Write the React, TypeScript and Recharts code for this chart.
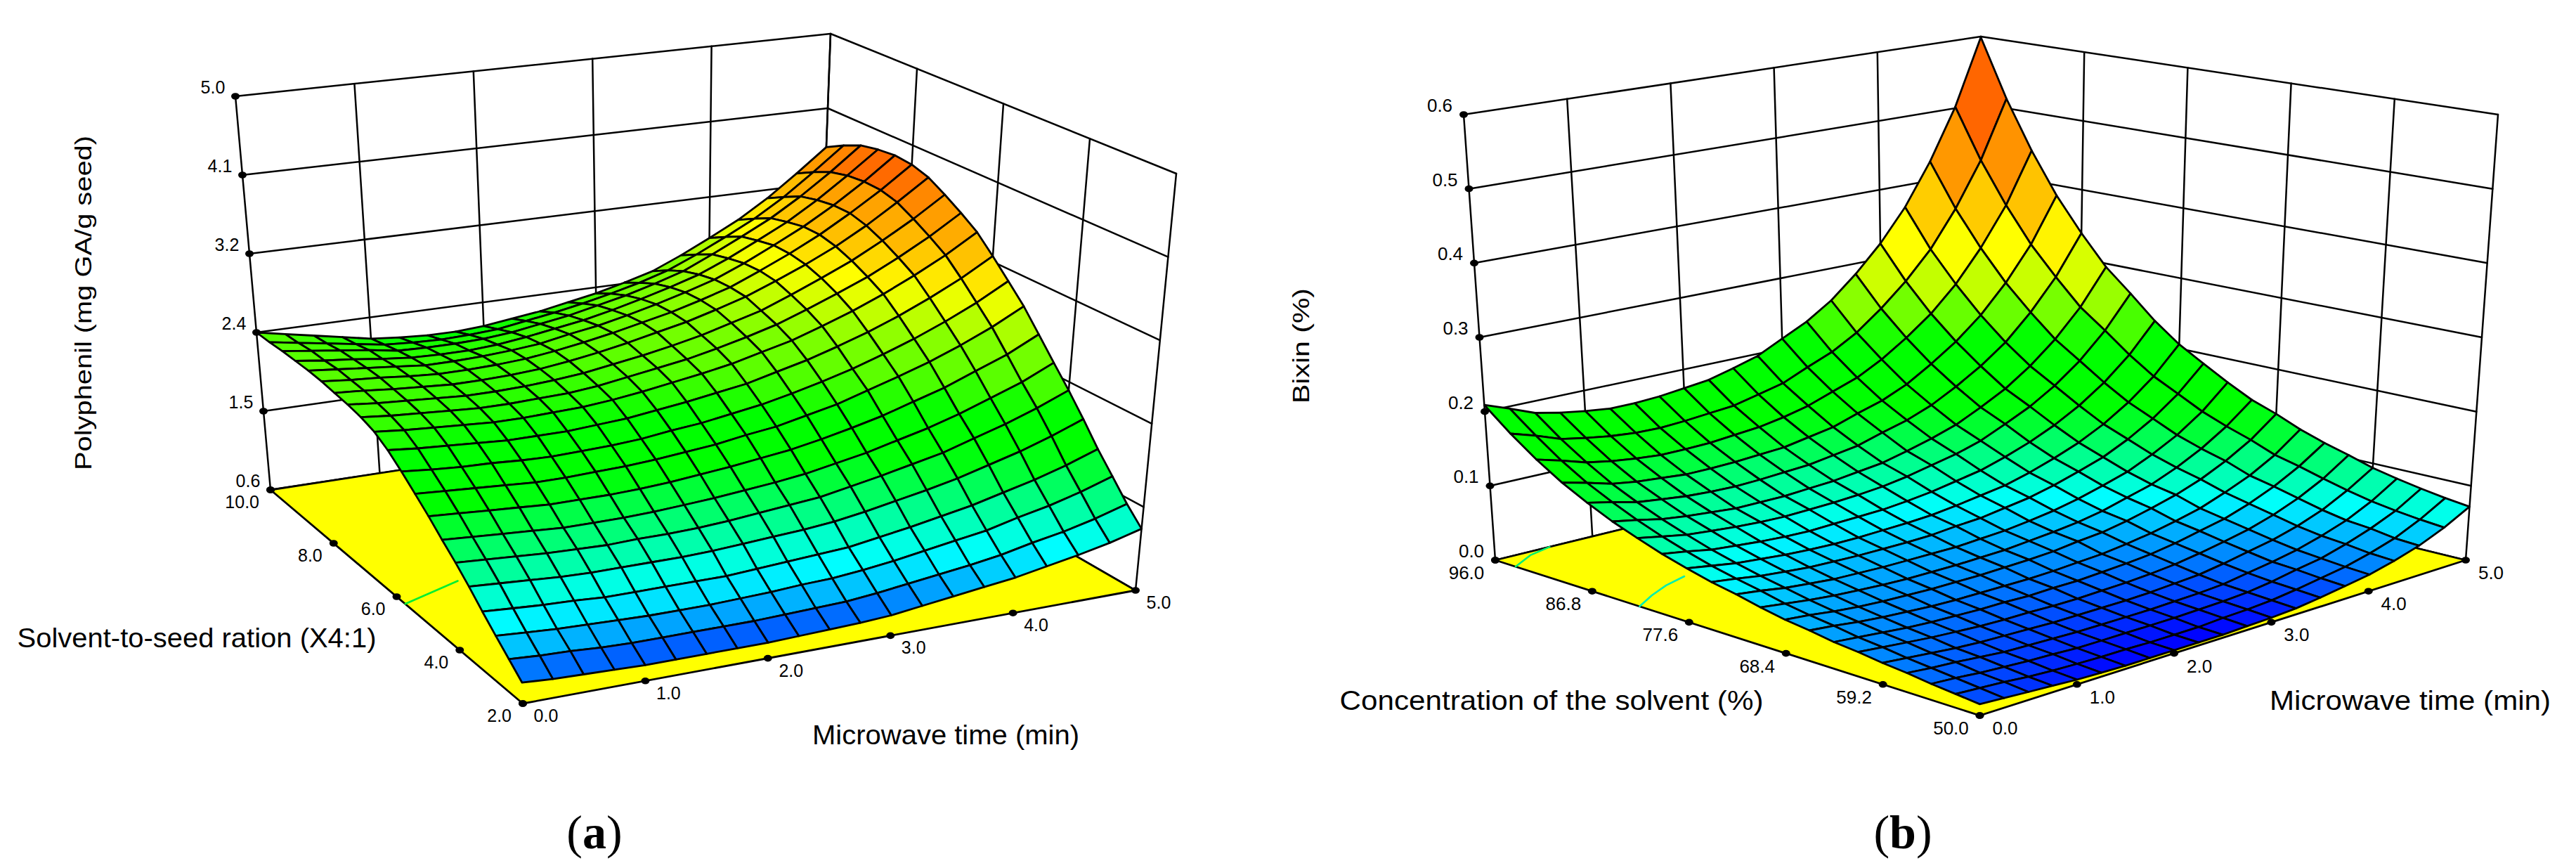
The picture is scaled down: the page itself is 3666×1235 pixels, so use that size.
import React from "react";
import { ScatterChart, Scatter, XAxis, YAxis } from "recharts";

// ---------- chart (a) values ----------
const timeTicksA = [0, 1, 2, 3, 4, 5];
const ratioTicksA = [2, 4, 6, 8, 10];
const polyTicksA = [0.6, 1.48, 2.36, 3.24, 4.12, 5.0];
// rows run from ratio 10 (first) to ratio 2 (last); columns from time 0 to time 5
const polyphenolRows = [
  [2.36,2.30,2.24,2.18,2.12,2.09,2.07,2.07,2.09,2.13,2.17,2.23,2.29,2.37,2.46,2.60,2.76,2.93,3.14,3.39,3.66],
  [2.36,2.31,2.26,2.21,2.16,2.14,2.13,2.14,2.16,2.21,2.26,2.32,2.39,2.47,2.57,2.71,2.87,3.04,3.25,3.50,3.77],
  [2.37,2.33,2.29,2.25,2.20,2.19,2.19,2.20,2.23,2.28,2.33,2.40,2.47,2.56,2.66,2.81,2.97,3.14,3.35,3.59,3.86],
  [2.37,2.33,2.30,2.26,2.23,2.22,2.22,2.24,2.28,2.33,2.38,2.45,2.53,2.62,2.72,2.86,3.02,3.19,3.40,3.64,3.90],
  [2.37,2.34,2.31,2.28,2.25,2.25,2.26,2.28,2.31,2.37,2.42,2.49,2.57,2.66,2.76,2.90,3.06,3.23,3.43,3.66,3.92],
  [2.36,2.33,2.31,2.28,2.26,2.26,2.27,2.29,2.33,2.38,2.44,2.51,2.58,2.67,2.77,2.91,3.06,3.23,3.43,3.65,3.90],
  [2.34,2.32,2.29,2.27,2.25,2.25,2.26,2.28,2.32,2.37,2.43,2.50,2.57,2.66,2.76,2.89,3.03,3.19,3.38,3.60,3.84],
  [2.32,2.29,2.27,2.25,2.23,2.23,2.24,2.26,2.29,2.34,2.39,2.45,2.52,2.61,2.70,2.83,2.97,3.12,3.30,3.50,3.73],
  [2.29,2.26,2.24,2.22,2.20,2.20,2.21,2.22,2.25,2.30,2.35,2.40,2.47,2.55,2.64,2.76,2.89,3.03,3.20,3.39,3.61],
  [2.24,2.21,2.19,2.17,2.15,2.15,2.16,2.17,2.20,2.24,2.29,2.34,2.40,2.48,2.56,2.67,2.79,2.93,3.09,3.27,3.48],
  [2.15,2.12,2.10,2.08,2.06,2.06,2.06,2.08,2.10,2.14,2.18,2.23,2.28,2.36,2.44,2.54,2.65,2.78,2.93,3.10,3.30],
  [2.03,2.00,1.98,1.97,1.95,1.94,1.95,1.96,1.98,2.02,2.05,2.10,2.15,2.22,2.30,2.39,2.50,2.62,2.76,2.92,3.11],
  [1.90,1.88,1.86,1.84,1.82,1.82,1.83,1.84,1.86,1.89,1.92,1.97,2.01,2.08,2.15,2.25,2.35,2.46,2.59,2.74,2.92],
  [1.77,1.75,1.73,1.71,1.69,1.69,1.69,1.70,1.72,1.75,1.78,1.82,1.86,1.92,1.99,2.07,2.17,2.27,2.40,2.53,2.70],
  [1.63,1.61,1.59,1.57,1.55,1.55,1.55,1.56,1.58,1.60,1.63,1.66,1.70,1.76,1.82,1.90,1.98,2.08,2.20,2.32,2.48],
  [1.50,1.48,1.46,1.44,1.43,1.42,1.43,1.43,1.44,1.46,1.49,1.52,1.55,1.61,1.67,1.74,1.81,1.91,2.01,2.13,2.27],
  [1.36,1.34,1.32,1.30,1.29,1.29,1.29,1.29,1.30,1.32,1.34,1.36,1.39,1.44,1.50,1.56,1.63,1.72,1.81,1.92,2.05],
  [1.21,1.19,1.17,1.16,1.14,1.14,1.14,1.14,1.14,1.16,1.18,1.20,1.22,1.27,1.32,1.38,1.44,1.52,1.60,1.70,1.82],
  [1.07,1.05,1.03,1.02,1.01,1.00,1.00,1.00,1.01,1.02,1.04,1.05,1.08,1.12,1.17,1.22,1.27,1.35,1.42,1.51,1.62],
  [0.94,0.92,0.91,0.89,0.88,0.88,0.88,0.88,0.88,0.89,0.90,0.91,0.94,0.98,1.02,1.06,1.11,1.18,1.24,1.32,1.42],
  [0.81,0.79,0.78,0.77,0.76,0.76,0.76,0.76,0.76,0.77,0.78,0.79,0.81,0.85,0.89,0.93,0.97,1.03,1.09,1.16,1.25],
];
const contourA1 = [{ t: 0, s: 5.73 }, { t: 0.575, s: 6.17 }];

// ---------- chart (b) values ----------
const timeTicksB = [0, 1, 2, 3, 4, 5];
const concTicksB = [50, 59.2, 68.4, 77.6, 86.8, 96];
const bixinTicksB = [0, 0.1, 0.2, 0.3, 0.4, 0.5, 0.6];
// rows run from concentration 96 (first) to 50 (last); columns from time 0 to time 5
const bixinRows = [
  [.209,.197,.184,.177,.172,.168,.168,.170,.174,.178,.187,.197,.214,.231,.254,.285,.322,.368,.428,.502,.599],
  [.180,.170,.158,.152,.147,.144,.143,.145,.148,.151,.159,.167,.182,.196,.216,.243,.275,.314,.366,.430,.514],
  [.155,.146,.136,.130,.126,.123,.123,.124,.127,.130,.136,.144,.156,.168,.186,.209,.236,.271,.316,.371,.444],
  [.134,.126,.117,.112,.109,.106,.106,.107,.109,.111,.117,.123,.134,.144,.159,.180,.204,.234,.273,.321,.385],
  [.117,.110,.102,.098,.094,.092,.091,.092,.094,.096,.101,.106,.116,.125,.138,.156,.177,.203,.238,.281,.337],
  [.102,.096,.089,.085,.082,.079,.079,.079,.081,.083,.087,.091,.099,.108,.119,.135,.153,.177,.207,.245,.295],
  [.090,.084,.078,.075,.072,.070,.069,.070,.071,.073,.076,.081,.088,.095,.105,.120,.136,.157,.184,.219,.264],
  [.079,.074,.068,.065,.062,.060,.059,.060,.061,.062,.065,.069,.075,.081,.091,.103,.118,.137,.161,.192,.232],
  [.070,.065,.060,.057,.054,.052,.051,.051,.052,.053,.055,.059,.064,.069,.078,.089,.102,.119,.141,.169,.206],
  [.062,.058,.053,.050,.047,.046,.045,.045,.045,.046,.049,.051,.056,.061,.069,.079,.090,.106,.126,.152,.186],
  [.056,.052,.047,.044,.041,.040,.039,.039,.039,.039,.041,.043,.047,.052,.059,.068,.078,.093,.111,.135,.167],
  [.049,.045,.041,.038,.036,.034,.033,.033,.033,.034,.035,.038,.041,.045,.051,.060,.069,.083,.100,.122,.150],
  [.043,.040,.036,.033,.031,.030,.029,.029,.029,.030,.031,.033,.037,.040,.046,.054,.063,.075,.091,.111,.138],
  [.039,.036,.032,.029,.027,.025,.024,.024,.024,.024,.025,.027,.029,.033,.038,.045,.053,.065,.079,.098,.124],
  [.034,.031,.028,.025,.023,.022,.021,.021,.020,.021,.021,.023,.025,.028,.033,.040,.047,.058,.072,.090,.113],
  [.031,.028,.025,.022,.020,.018,.017,.017,.016,.016,.017,.018,.020,.023,.028,.034,.041,.051,.064,.081,.104],
  [.027,.024,.021,.018,.016,.015,.014,.013,.013,.013,.013,.014,.016,.018,.023,.029,.035,.044,.056,.073,.094],
  [.024,.021,.019,.016,.013,.012,.011,.010,.010,.010,.010,.011,.012,.014,.019,.024,.030,.039,.050,.066,.087],
  [.020,.018,.015,.013,.011,.010,.008,.008,.008,.008,.008,.009,.010,.012,.016,.022,.027,.036,.047,.061,.081],
  [.017,.015,.013,.010,.008,.007,.006,.006,.005,.005,.005,.007,.008,.010,.014,.019,.024,.032,.042,.057,.076],
  [.014,.012,.010,.008,.006,.005,.004,.004,.004,.004,.004,.005,.006,.008,.012,.017,.022,.030,.040,.054,.072],
];
const contourB1 = [{ t: 0, s: 94.07 }, { t: 0.295, s: 95.39 }, { t: 0.56, s: 96 }];
const contourB2 = [{ t: 0, s: 82.3 }, { t: 0.265, s: 83.57 }, { t: 0.52, s: 84.58 }, { t: 0.785, s: 85.29 }];

// ---------- colour ramps: [value, r, g, b] ----------
const rampA = [
  [0.7,0,40,255],[0.85,0,110,255],[1.0,0,200,255],[1.14,0,255,255],[1.3,0,255,200],[1.45,0,255,135],
  [1.6,0,255,80],[1.8,0,255,0],[2.1,0,255,0],[2.36,90,255,0],[2.59,128,255,0],[2.81,200,255,0],
  [3.0,255,255,0],[3.2,255,208,0],[3.4,255,176,0],[3.6,255,153,0],[3.8,255,102,0],
];
const rampB = [
  [0.004,0,0,255],[0.012,0,64,255],[0.025,0,128,255],[0.035,0,160,255],[0.045,0,192,255],[0.06,0,255,255],
  [0.075,0,255,192],[0.095,0,255,128],[0.125,0,255,30],[0.14,0,255,0],[0.205,0,255,0],[0.236,102,255,0],
  [0.27,190,255,0],[0.32,255,255,0],[0.37,255,204,0],[0.43,255,153,0],[0.51,255,102,0],
];

// ---------- box geometry (page pixels) ----------
const boxA = {
  t: [0, 5], s: [2, 10], z: [0.6, 5],
  floor: { F: [744, 1001], R: [1616, 840], L: [385, 697], B: [1162, 578] },
  top: { F: [722, 377], R: [1674, 247], L: [335, 137], B: [1182, 48] },
};
const boxB = {
  t: [0, 5], s: [50, 96], z: [0, 0.6],
  floor: { F: [2817.5, 1018], R: [3509, 797], L: [2128, 797], B: [2819, 628] },
  top: { F: [2818.5, 326], R: [3555, 163], L: [2083, 163], B: [2819, 52] },
};
const W = 3666;
const H = 1235;

type Pt = number[];
const mix = (a: number, b: number, k: number) => a + (b - a) * k;
function bilin(c: any, u: number, v: number): Pt {
  return [0, 1].map((d) => mix(mix(c.F[d], c.R[d], u), mix(c.L[d], c.B[d], u), v));
}
function project(box: any, u: number, v: number, w: number): Pt {
  const a = bilin(box.floor, u, v);
  const b = bilin(box.top, u, v);
  return [mix(a[0], b[0], w), mix(a[1], b[1], w)];
}
const norm = (r: number[], x: number) => (x - r[0]) / (r[1] - r[0]);
function rampColor(ramp: number[][], z: number) {
  if (z <= ramp[0][0]) return `rgb(${ramp[0][1]},${ramp[0][2]},${ramp[0][3]})`;
  for (let i = 1; i < ramp.length; i++) {
    if (z <= ramp[i][0]) {
      const k = (z - ramp[i - 1][0]) / (ramp[i][0] - ramp[i - 1][0]);
      const c = [1, 2, 3].map((d) => Math.round(mix(ramp[i - 1][d], ramp[i][d], k)));
      return `rgb(${c[0]},${c[1]},${c[2]})`;
    }
  }
  const l = ramp[ramp.length - 1];
  return `rgb(${l[1]},${l[2]},${l[3]})`;
}
const item = (pts: Pt[], extra: any) => ({ x: pts[0][0], y: pts[0][1], pts, ...extra });

function surfaceCells(box: any, rows: number[][], ramp: number[][]) {
  const n = rows.length - 1;
  const m = rows[0].length - 1;
  const node = (i: number, j: number) => project(box, j / m, 1 - i / n, norm(box.z, rows[i][j]));
  const out: any[] = [];
  for (let i = 0; i < n; i++) {
    for (let j = m - 1; j >= 0; j--) {
      const z = (rows[i][j] + rows[i][j + 1] + rows[i + 1][j] + rows[i + 1][j + 1]) / 4;
      out.push(item([node(i, j), node(i, j + 1), node(i + 1, j + 1), node(i + 1, j)], {
        fill: rampColor(ramp, z), stroke: "#000", sw: 2.8, closed: true,
      }));
    }
  }
  return out;
}
function wallLines(box: any, tTicks: number[], sTicks: number[], zTicks: number[]) {
  const out: any[] = [];
  const style = { fill: "none", stroke: "#000", sw: 2.5 };
  zTicks.forEach((z) => {
    const w = norm(box.z, z);
    out.push(item([project(box, 0, 1, w), project(box, 1, 1, w), project(box, 1, 0, w)], style));
  });
  tTicks.forEach((t) => out.push(item([project(box, norm(box.t, t), 1, 0), project(box, norm(box.t, t), 1, 1)], style)));
  sTicks.forEach((s) => out.push(item([project(box, 1, norm(box.s, s), 0), project(box, 1, norm(box.s, s), 1)], style)));
  return out;
}
function floorShapes(box: any) {
  const c = [project(box, 0, 1, 0), project(box, 0, 0, 0), project(box, 1, 0, 0), project(box, 1, 1, 0)];
  return [item(c, { fill: "#ffff00", stroke: "#000", sw: 2.8, closed: true })];
}
const contourLine = (box: any, pts: any[], stroke: string) =>
  item(pts.map((p) => project(box, norm(box.t, p.t), norm(box.s, p.s), 0)), { fill: "none", stroke, sw: 2.6 });

function tickDots(box: any, tTicks: number[], sTicks: number[], zTicks: number[]) {
  const a = zTicks.map((z) => project(box, 0, 1, norm(box.z, z)));
  const b = sTicks.map((s) => project(box, 0, norm(box.s, s), 0));
  const c = tTicks.map((t) => project(box, norm(box.t, t), 0, 0));
  return [...a, ...b, ...c].map((p) => ({ x: p[0], y: p[1] }));
}
function tickTexts(box: any, tTicks: number[], sTicks: number[], zTicks: number[], off: any) {
  const out: any[] = [];
  zTicks.forEach((z) => {
    const p = project(box, 0, 1, norm(box.z, z));
    out.push({ x: p[0] + off.z[0], y: p[1] + off.z[1], text: z.toFixed(1), size: off.size });
  });
  sTicks.forEach((s) => {
    const p = project(box, 0, norm(box.s, s), 0);
    out.push({ x: p[0] + off.s[0], y: p[1] + off.s[1], text: s.toFixed(1), size: off.size, anchor: off.sAnchor });
  });
  tTicks.forEach((t) => {
    const p = project(box, norm(box.t, t), 0, 0);
    out.push({ x: p[0] + off.t[0], y: p[1] + off.t[1], text: t.toFixed(1), size: off.size });
  });
  return out;
}

const SANS = "'Liberation Sans', Arial, sans-serif";
const titles = [
  { x: 118, y: 431, text: "Polyphenil (mg GA/g seed)", size: 33, rotate: -90, len: 476 },
  { x: 280, y: 907, text: "Solvent-to-seed ration (X4:1)", size: 39, len: 511 },
  { x: 1346, y: 1045, text: "Microwave time (min)", size: 39, len: 380 },
  { x: 1851, y: 492, text: "Bixin (%)", size: 33, rotate: -90, len: 164 },
  { x: 2208, y: 996, text: "Concentration of the solvent (%)", size: 39, len: 603 },
  { x: 3430, y: 996, text: "Microwave time (min)", size: 39, len: 400 },
];
const captions = [
  { x: 846, y: 1184, letter: "a" },
  { x: 2708, y: 1184, letter: "b" },
];

function PathShape(props: any) {
  const { cx, cy, payload } = props;
  const d = payload.pts
    .map((p: Pt, i: number) => `${i ? "L" : "M"}${(cx + p[0] - payload.x).toFixed(1)} ${(cy + p[1] - payload.y).toFixed(1)}`)
    .join(" ");
  return (
    <path d={d + (payload.closed ? " Z" : "")} fill={payload.fill} stroke={payload.stroke}
      strokeWidth={payload.sw} strokeLinejoin="round" strokeLinecap="round" />
  );
}
function DotShape(props: any) {
  return <ellipse cx={props.cx} cy={props.cy} rx={6} ry={4.8} fill="#000" />;
}
function TextShape(props: any) {
  const { cx, cy, payload: p } = props;
  return (
    <text x={cx} y={cy} textAnchor={p.anchor || "middle"} dominantBaseline="central" fontFamily={SANS}
      fontSize={p.size} fill="#000"
      textLength={p.len} lengthAdjust={p.len ? "spacingAndGlyphs" : undefined}
      transform={p.rotate ? `rotate(${p.rotate} ${cx} ${cy})` : undefined}>
      {p.text}
    </text>
  );
}
function CaptionShape(props: any) {
  const { cx, cy, payload: p } = props;
  return (
    <text x={cx} y={cy} textAnchor="middle" dominantBaseline="central" fontFamily="'Liberation Serif', serif"
      fontSize={68} fill="#000">
      (<tspan fontWeight="bold">{p.letter}</tspan>)
    </text>
  );
}

const offA = { z: [-32, -13], s: [-16, 17], t: [33, 17], size: 25, sAnchor: "end" };
const offB = { z: [-34, -13], s: [-41, 18], t: [36, 18], size: 26, sAnchor: "middle" };

const backA = wallLines(boxA, timeTicksA, ratioTicksA, polyTicksA);
const backB = wallLines(boxB, timeTicksB, concTicksB, bixinTicksB);
const floors = [
  ...floorShapes(boxA),
  ...floorShapes(boxB),
  contourLine(boxA, contourA1, "#00ee30"),
  contourLine(boxB, contourB1, "#00ee70"),
  contourLine(boxB, contourB2, "#00eeb0"),
];
const cellsA = surfaceCells(boxA, polyphenolRows, rampA);
const cellsB = surfaceCells(boxB, bixinRows, rampB);
const dots = [
  ...tickDots(boxA, timeTicksA, ratioTicksA, polyTicksA),
  ...tickDots(boxB, timeTicksB, concTicksB, bixinTicksB),
];
const texts = [
  ...tickTexts(boxA, timeTicksA, ratioTicksA, polyTicksA, offA),
  ...tickTexts(boxB, timeTicksB, concTicksB, bixinTicksB, offB),
  ...titles,
];

export default function App() {
  return (
    <div style={{ position: "absolute", left: 0, top: 0, width: W, height: H, background: "#fff" }}>
      <ScatterChart width={W} height={H} margin={{ top: 0, right: 0, bottom: 0, left: 0 }}>
        <XAxis type="number" dataKey="x" domain={[0, W]} hide allowDataOverflow />
        <YAxis type="number" dataKey="y" domain={[0, H]} reversed hide allowDataOverflow />
        <Scatter data={backA} shape={PathShape} isAnimationActive={false} />
        <Scatter data={backB} shape={PathShape} isAnimationActive={false} />
        <Scatter data={floors} shape={PathShape} isAnimationActive={false} />
        <Scatter data={cellsA} shape={PathShape} isAnimationActive={false} />
        <Scatter data={cellsB} shape={PathShape} isAnimationActive={false} />
        <Scatter data={dots} shape={DotShape} isAnimationActive={false} />
        <Scatter data={texts} shape={TextShape} isAnimationActive={false} />
        <Scatter data={captions} shape={CaptionShape} isAnimationActive={false} />
      </ScatterChart>
    </div>
  );
}
